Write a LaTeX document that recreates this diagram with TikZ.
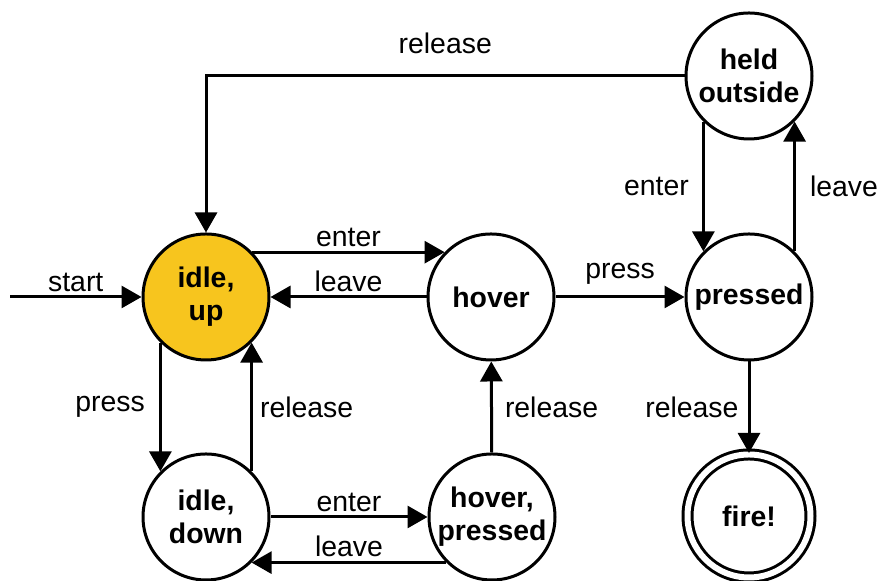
\documentclass[tikz,border=0pt]{standalone}
\usepackage{fontspec}
\setmainfont{Liberation Sans}
\usetikzlibrary{arrows.meta}
\definecolor{idleyellow}{RGB}{247,197,30}

\begin{document}
\begin{tikzpicture}[x=0.5pt,y=0.5pt,line width=1.5pt,
    >={Triangle[length=10pt,width=11pt]},
    every node/.style={font=\fontsize{14.2}{16.5}\selectfont,inner sep=2pt},
    state/.style={draw,circle,minimum size=63pt,inner sep=0pt,align=center,
      font=\fontsize{14.2}{16.5}\selectfont\bfseries},
    final/.style={state,minimum size=61.5pt,double,double distance=3pt}]
    \useasboundingbox (0,0) rectangle (880,581);
    % states
    \node[state,fill=idleyellow] (iu) at (206,284) {idle,\\up};
    \node[state] (hv) at (491,284) {hover};
    \node[state] (pr) at (749,284) {pressed};
    \node[state] (ho) at (749,505) {held\\outside};
    \node[state] (id) at (206,64) {idle,\\down};
    \node[state] (hp) at (492,64) {hover,\\pressed};
    \node[final] (fi) at (749,65) {fire!};
    \coordinate (s) at (10,284);
    % transitions
    \draw[->] (s) -- node[above] {start} (iu);
    \draw[->] (ho) -| node[pos=0.25,above,yshift=8.5pt] {release} (iu);
    \draw[->] (iu.44) -- node[above] {enter} (hv.136);
    \draw[->] (hv) -- node[above] {leave} (iu);
    \draw[->] (hv) -- node[above,yshift=3.5pt] {press} (pr);
    \draw[->] (ho.225) -- node[left,xshift=-4.5pt] {enter} (pr.135);
    \draw[->] (pr.45) -- node[right,xshift=5pt] {leave} (ho.315);
    \draw[->] (pr) -- node[left,xshift=-2.5pt] {release} (fi);
    \draw[->] (iu.225) -- node[left,xshift=-5pt] {press} (id.135);
    \draw[->] (id.45) -- node[right,xshift=1.5pt] {release} (iu.315);
    \draw[->] (id) -- node[above] {enter} (hp);
    \draw[->] (hp.225) -- node[above] {leave} (id.315);
    \draw[->] (hp) -- node[right,xshift=4pt] {release} (hv);
\end{tikzpicture}
\end{document}
